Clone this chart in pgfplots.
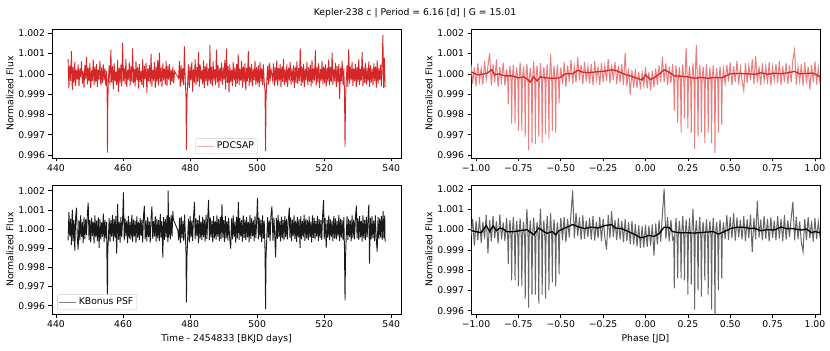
\documentclass[border=0pt]{standalone}
\usepackage{pgfplots}
\pgfplotsset{compat=1.18}
\usepackage{fontspec}
\setmainfont{DejaVu Sans}

\definecolor{tabred}{RGB}{214,39,40}
\definecolor{pdcnoise}{RGB}{234,125,125}
\definecolor{pdcleg}{RGB}{242,170,170}

\pgfplotsset{
  lcbase/.style={
    scale only axis, width=349bp, height=129bp,
    axis line style={line width=0.6bp},
    tick style={line width=0.6bp, black},
    tick align=outside, major tick length=3.5bp,
    xtick pos=bottom, ytick pos=left,
    ytick={0.996,0.997,0.998,0.999,1.000,1.001,1.002},
    yticklabels={0.996,0.997,0.998,0.999,1.000,1.001,1.002},
    ylabel={Normalized Flux},
    ylabel style={yshift=-2bp},
    tick label style={font=\fontsize{9.3}{11}\selectfont},
    label style={font=\fontsize{9.3}{11}\selectfont},
    legend style={font=\fontsize{9.3}{11}\selectfont, draw=black!20, rounded corners=2bp,
      fill=white, fill opacity=0.8, text opacity=1, inner sep=1.5bp},
    legend cell align=left,
  },
  timeax/.style={lcbase, xmin=438.8, xmax=542.9,
    xtick={440,460,480,500,520,540}, xticklabels={440,460,480,500,520,540}},
  phaseax/.style={lcbase, xmin=-1.03, xmax=1.03,
    xtick={-1,-0.75,-0.5,-0.25,0,0.25,0.5,0.75,1},
    xticklabels={−1.00,−0.75,−0.50,−0.25,0.00,0.25,0.50,0.75,1.00}},
}

\begin{document}
\begin{tikzpicture}
\useasboundingbox (0,0) rectangle (830bp,351bp);
\node[font=\fontsize{9.3}{11}\selectfont] at (415bp,338bp) {Kepler-238 c | Period = 6.16 [d] | G = 15.01};

% PDCSAP light curve
\begin{axis}[timeax, at={(52bp,193bp)}, anchor=south west,
  ymin=0.99585, ymax=1.00221,
  legend style={at={(0.5,0.03)}, anchor=south}]
\addplot[tabred, line width=0.9bp, forget plot] coordinates {
(443.60,1.00072) (443.85,0.99928) (444.10,1.00041) (444.35,0.99965) (444.60,1.00112) (444.85,0.99921)
(445.10,1.00034) (445.35,0.99956) (445.60,1.00058) (445.85,0.99941) (446.10,1.00019) (446.35,0.99972)
(446.60,1.00047) (446.85,0.99938) (447.10,1.00026) (447.35,0.99983) (447.60,1.00061) (447.85,0.99952)
(448.10,1.00012) (448.35,0.99931) (448.60,1.00044) (448.85,0.99977) (449.10,1.00083) (449.35,0.99948)
(449.60,1.00029) (449.85,0.99962) (450.10,1.00053) (450.35,0.99929) (450.60,1.00017) (450.85,0.99966)
(451.10,1.00071) (451.35,0.99945) (451.60,1.00035) (451.85,0.99958) (452.10,1.00049) (452.35,0.99936)
(452.60,1.00022) (452.85,0.99971) (453.10,1.00064) (453.35,0.99943) (453.60,1.00031) (453.85,0.99954)
(454.10,1.00046) (454.35,0.99968) (454.60,1.00027) (454.85,0.99939) (455.10,1.00013) (455.25,0.99905)
(455.35,0.99612) (455.45,0.99850) (455.60,0.99962) (455.85,1.00041) (456.10,0.99947) (456.35,1.00117)
(456.60,0.99958) (456.85,1.00038) (457.10,0.99925) (457.35,1.00052) (457.60,0.99963) (457.85,1.00009)
(458.10,0.99944) (458.35,1.00068) (458.60,0.99911) (458.85,1.00032) (459.10,0.99957) (459.35,1.00045)
(459.60,0.99938) (459.85,1.00152) (460.10,0.99965) (460.35,1.00028) (460.60,0.99949) (460.85,1.00073)
(461.10,0.99934) (461.35,1.00019) (461.60,0.99972) (461.85,1.00056) (462.10,0.99942) (462.35,1.00037)
(462.60,0.99961) (462.85,1.00125) (463.10,0.99953) (463.35,1.00024) (463.60,0.99938) (463.85,1.00062)
(464.10,0.99969) (464.35,1.00033) (464.60,0.99927) (464.85,1.00048) (465.10,0.99959) (465.35,1.00015)
(465.60,0.99946) (465.85,1.00071) (466.10,0.99932) (466.35,1.00039) (466.60,0.99975) (466.85,1.00054)
(467.10,0.99906) (467.35,1.00027) (467.60,0.99963) (467.85,1.00044) (468.10,0.99951) (468.35,1.00098)
(468.60,0.99937) (468.85,1.00021) (469.10,0.99966) (469.35,1.00057) (469.60,0.99929) (469.85,1.00036)
(470.10,0.99958) (470.35,1.00069) (470.60,0.99943) (470.85,1.00104) (471.10,0.99961) (471.35,1.00030)
(471.60,0.99935) (471.85,1.00051) (472.10,0.99968) (472.35,1.00025) (472.60,0.99947) (472.85,1.00063)
(473.10,0.99939) (473.35,1.00038) (473.60,0.99972) (473.85,1.00049) (474.10,0.99944) (474.35,1.00021)
(474.60,0.99960) (474.85,1.00035) (475.10,0.99953) (475.35,1.00012)
(476.55,0.99978) (476.80,1.00062) (477.05,0.99934) (477.30,1.00041) (477.55,0.99957) (477.80,1.00028)
(478.05,0.99946) (478.30,1.00135) (478.55,0.99962) (478.75,0.99895) (478.90,0.99625) (479.05,0.99870)
(479.25,0.99952) (479.50,1.00047) (479.75,0.99931) (480.00,1.00036) (480.25,0.99968) (480.50,1.00059)
(480.75,0.99912) (481.00,1.00024) (481.25,0.99957) (481.50,1.00071) (481.75,0.99943) (482.00,1.00033)
(482.25,0.99961) (482.50,1.00108) (482.75,0.99937) (483.00,1.00045) (483.25,0.99972) (483.50,1.00018)
(483.75,0.99948) (484.00,1.00066) (484.25,0.99929) (484.50,1.00039) (484.75,0.99963) (485.00,1.00052)
(485.25,0.99941) (485.50,1.00027) (485.75,0.99966) (485.90,1.00142) (486.10,0.99952) (486.35,1.00034)
(486.60,0.99938) (486.85,1.00061) (487.10,0.99967) (487.35,1.00023) (487.60,0.99944) (487.85,1.00118)
(488.10,0.99957) (488.35,1.00041) (488.60,0.99931) (488.85,1.00029) (489.10,0.99964) (489.35,1.00055)
(489.60,0.99947) (489.85,1.00032) (490.10,0.99971) (490.35,1.00067) (490.60,0.99924) (490.85,1.00124)
(491.10,0.99955) (491.35,1.00038) (491.60,0.99907) (491.85,1.00046) (492.10,0.99962) (492.35,1.00019)
(492.60,0.99940) (492.85,1.00058) (493.10,0.99968) (493.35,1.00031) (493.60,0.99936) (493.85,1.00049)
(494.10,0.99953) (494.35,1.00096) (494.60,0.99945) (494.85,1.00026) (495.10,0.99966) (495.35,1.00063)
(495.60,0.99932) (495.85,1.00037) (496.10,0.99959) (496.35,1.00052) (496.60,0.99918) (496.85,1.00029)
(497.10,0.99964) (497.35,1.00112) (497.60,0.99941) (497.85,1.00035) (498.10,0.99957) (498.35,1.00048)
(498.60,0.99938) (498.85,1.00022) (499.10,0.99969) (499.35,1.00064) (499.60,0.99946) (499.85,1.00033)
(500.10,0.99953) (500.35,1.00042) (500.60,0.99935) (500.85,1.00058) (501.10,0.99962) (501.35,1.00027)
(501.60,0.99944) (501.85,1.00047) (502.10,0.99958) (502.35,0.99915) (502.50,0.99620) (502.65,0.99880)
(502.85,0.99961) (503.10,1.00038) (503.35,0.99947) (503.60,1.00055) (503.85,0.99963) (504.10,1.00024)
(504.60,0.99971) (504.85,1.00051) (505.10,0.99939) (505.35,1.00033) (505.60,0.99958) (505.85,1.00066)
(506.10,0.99942) (506.35,1.00029) (506.60,0.99967) (506.85,1.00048) (507.10,0.99933) (507.35,1.00037)
(507.60,0.99961) (507.85,1.00072) (508.10,0.99944) (508.35,1.00021) (508.60,0.99955) (508.85,1.00046)
(509.10,0.99936) (509.35,1.00031) (509.60,0.99968) (509.85,1.00059) (510.10,0.99947) (510.35,1.00025)
(510.60,0.99962) (510.85,1.00043) (511.10,0.99929) (511.35,1.00034) (511.60,0.99957) (511.85,1.00061)
(512.10,0.99949) (512.35,1.00028) (512.60,0.99965) (512.85,1.00126) (513.10,0.99941) (513.35,1.00036)
(513.60,0.99956) (513.85,1.00049) (514.10,0.99934) (514.35,1.00023) (514.60,0.99968) (514.85,1.00057)
(515.10,0.99945) (515.35,1.00032) (515.60,0.99961) (515.85,1.00044) (516.10,0.99938) (516.35,1.00068)
(516.60,0.99953) (516.85,1.00027) (517.10,0.99966) (517.35,1.00115) (517.60,0.99942) (517.85,1.00035)
(518.10,0.99958) (518.35,1.00052) (518.60,0.99931) (518.85,1.00024) (519.10,0.99967) (519.35,1.00063)
(519.60,0.99948) (519.85,1.00037) (520.10,0.99955) (520.35,1.00046) (520.60,0.99937) (520.85,1.00029)
(521.10,0.99962) (521.35,1.00071) (521.60,0.99943) (521.85,1.00034) (522.10,0.99959) (522.35,1.00105)
(522.60,0.99946) (522.85,1.00022) (523.10,0.99964) (523.35,1.00053) (523.60,0.99935) (523.85,1.00038)
(524.10,0.99957) (524.35,1.00047) (524.60,0.99876) (524.85,1.00031) (525.10,0.99963) (525.35,1.00064)
(525.60,0.99944) (525.85,1.00026) (526.05,0.99905) (526.20,0.99640) (526.35,0.99860) (526.55,0.99958)
(526.80,1.00043) (527.05,0.99936) (527.30,1.00121) (527.55,0.99952) (527.80,1.00035) (528.05,0.99968)
(528.30,1.00058) (528.55,0.99941) (528.80,1.00027) (529.05,0.99963) (529.30,1.00049) (529.55,0.99933)
(529.80,1.00036) (530.05,0.99958) (530.30,1.00073) (530.55,0.99945) (530.80,1.00024) (531.05,0.99966)
(531.30,1.00108) (531.55,0.99939) (531.80,1.00032) (532.05,0.99956) (532.30,1.00054) (532.55,0.99947)
(532.80,1.00029) (533.05,0.99962) (533.30,1.00061) (533.55,0.99936) (533.80,1.00041) (534.05,0.99958)
(534.30,1.00025) (534.55,0.99943) (534.80,1.00052) (535.05,0.99965) (535.30,1.00037) (535.55,0.99932)
(535.80,1.00066) (536.05,0.99951) (536.30,1.00028) (536.55,0.99969) (536.80,1.00045) (537.05,0.99938)
(537.30,1.00058) (537.50,1.00192) (537.70,0.99931) (537.95,1.00079) (538.15,0.99935)
};
\addlegendimage{pdcleg, line width=0.9bp}
\addlegendentry{PDCSAP}
\end{axis}

% PDCSAP folded
\begin{axis}[phaseax, at={(471bp,193bp)}, anchor=south west,
  ymin=0.99585, ymax=1.00221]
\addplot[pdcnoise, line width=1.0bp] coordinates {
(-1.03,1.00045) (-1.02,0.99951) (-1.01,1.00032) (-1.00,0.99938) (-0.99,1.00051) (-0.98,0.99964) (-0.97,1.00028) (-0.96,0.99947) (-0.95,1.00063) (-0.94,0.99972)
(-0.93,1.00039) (-0.92,1.00102) (-0.91,0.99943) (-0.90,1.00047) (-0.89,0.99958) (-0.88,1.00071) (-0.87,0.99936) (-0.86,1.00034) (-0.85,0.99961) (-0.84,1.00055)
(-0.83,0.99942)
(-0.82,1.00026) (-0.813,0.99962) (-0.81,0.99850) (-0.807,0.99971) (-0.80,1.00038) (-0.793,0.99957) (-0.79,0.99755) (-0.787,0.99968)
(-0.78,1.00044) (-0.773,0.99949) (-0.77,0.99755) (-0.767,0.99975) (-0.76,1.00031) (-0.753,0.99958) (-0.75,0.99720) (-0.747,0.99964)
(-0.74,1.00057) (-0.733,0.99946) (-0.73,0.99720) (-0.727,0.99972) (-0.72,1.00036) (-0.713,0.99955) (-0.71,0.99690) (-0.707,0.99961)
(-0.70,1.00049) (-0.693,0.99948) (-0.69,0.99625) (-0.687,0.99967) (-0.68,1.00028) (-0.673,0.99953) (-0.67,0.99660) (-0.667,0.99974)
(-0.66,1.00061) (-0.653,0.99942) (-0.65,0.99655) (-0.647,0.99966) (-0.64,1.00042) (-0.633,0.99957) (-0.63,0.99690) (-0.627,0.99949)
(-0.62,1.00053) (-0.613,0.99963) (-0.61,0.99660) (-0.607,0.99958) (-0.60,1.00034) (-0.593,0.99951) (-0.59,0.99700) (-0.587,0.99969)
(-0.58,1.00047) (-0.573,0.99944) (-0.57,0.99680) (-0.567,0.99962) (-0.56,1.00096) (-0.553,0.99956) (-0.55,0.99720) (-0.547,0.99971)
(-0.54,1.00038) (-0.533,0.99948) (-0.53,0.99710) (-0.527,0.99965) (-0.52,1.00045) (-0.513,0.99959) (-0.51,0.99855) (-0.507,0.99952)
(-0.50,1.00031) (-0.49,0.99948) (-0.48,1.00057) (-0.47,0.99936) (-0.46,1.00042) (-0.45,0.99962) (-0.44,1.00068)
(-0.43,0.99951) (-0.42,1.00035) (-0.41,0.99957) (-0.40,1.00081) (-0.39,0.99968) (-0.38,1.00044) (-0.37,0.99949) (-0.36,1.00059) (-0.35,0.99963) (-0.34,1.00037)
(-0.33,0.99952) (-0.32,1.00049) (-0.31,0.99944) (-0.30,1.00062) (-0.29,0.99971) (-0.28,1.00033) (-0.27,0.99946) (-0.26,1.00054) (-0.25,0.99958) (-0.24,1.00041)
(-0.23,0.99965) (-0.22,1.00072) (-0.21,0.99953) (-0.20,1.00046) (-0.19,0.99968) (-0.18,1.00058) (-0.17,0.99951) (-0.16,1.00039) (-0.15,0.99957) (-0.14,1.00048)
(-0.13,0.99944) (-0.12,1.00103) (-0.11,0.99938) (-0.10,1.00027) (-0.09,0.99898) (-0.08,1.00018) (-0.07,0.99932) (-0.06,1.00024) (-0.05,0.99929) (-0.04,1.00011)
(-0.03,0.99924) (-0.02,1.00006) (-0.01,0.99941) (0.00,1.00034) (0.01,0.99928) (0.02,1.00009) (0.03,0.99919) (0.04,1.00015) (0.05,0.99935) (0.06,1.00027)
(0.07,0.99946) (0.08,1.00041) (0.09,0.99962) (0.10,1.00083) (0.11,0.99958) (0.12,1.00052) (0.13,0.99943) (0.14,1.00037) (0.15,0.99956)
(0.16,1.00048) (0.167,0.99958) (0.17,0.99820) (0.173,0.99966) (0.18,1.00041) (0.187,0.99951) (0.19,0.99760) (0.193,0.99968)
(0.20,1.00033) (0.207,0.99955) (0.21,0.99710) (0.213,0.99972) (0.22,1.00046) (0.227,0.99947) (0.23,0.99780) (0.233,0.99963)
(0.24,1.00128) (0.247,0.99958) (0.25,0.99730) (0.253,0.99969) (0.26,1.00039) (0.267,0.99944) (0.27,0.99710) (0.273,0.99961)
(0.28,1.00052) (0.287,0.99953) (0.29,0.99630) (0.293,0.99974) (0.30,1.00141) (0.307,0.99949) (0.31,0.99690) (0.313,0.99965)
(0.32,1.00044) (0.327,0.99957) (0.33,0.99710) (0.333,0.99952) (0.34,1.00036) (0.347,0.99946) (0.35,0.99660) (0.353,0.99967)
(0.36,1.00049) (0.367,0.99955) (0.37,0.99710) (0.373,0.99962) (0.38,1.00032) (0.387,0.99948) (0.39,0.99660) (0.393,0.99971)
(0.40,1.00041) (0.407,0.99956) (0.41,0.99610) (0.413,0.99964) (0.42,1.00028) (0.427,0.99951) (0.43,0.99710) (0.433,0.99968)
(0.44,1.00037) (0.447,0.99953) (0.45,0.99750) (0.453,0.99962) (0.46,1.00024)
(0.47,0.99951) (0.48,1.00045) (0.49,0.99962) (0.50,1.00056) (0.51,0.99943) (0.52,1.00038) (0.53,0.99959) (0.54,1.00064) (0.55,0.99947) (0.56,1.00031)
(0.57,0.99966) (0.58,0.99918) (0.59,1.00053) (0.60,0.99954) (0.61,1.00042) (0.62,0.99968) (0.63,1.00071) (0.64,0.99948) (0.65,1.00088) (0.66,0.99957)
(0.67,1.00036) (0.68,0.99944) (0.69,1.00052) (0.70,0.99963) (0.71,1.00039) (0.72,0.99951) (0.73,1.00058) (0.74,0.99942) (0.75,1.00033) (0.76,0.99967)
(0.77,1.00047) (0.78,0.99956) (0.79,1.00062) (0.80,0.99945) (0.81,1.00038) (0.82,0.99961) (0.83,1.00054) (0.84,0.99949) (0.85,1.00041) (0.86,0.99958)
(0.87,1.00069) (0.88,1.00118) (0.89,0.99946) (0.90,1.00034) (0.91,0.99963) (0.92,1.00049) (0.93,0.99941) (0.94,1.00057) (0.95,0.99952) (0.96,1.00036)
(0.97,0.99922) (0.98,1.00044) (0.99,0.99958) (1.00,1.00061) (1.01,0.99947) (1.02,1.00032) (1.03,0.99953)
};
\addplot[tabred, line width=1.3bp] coordinates {
(-1.03,1.00010) (-0.99,0.99995) (-0.95,1.00000) (-0.93,1.00005) (-0.91,1.00020) (-0.89,0.99995) (-0.87,1.00000)
(-0.83,0.99990) (-0.79,0.99990) (-0.75,0.99980) (-0.72,0.99985) (-0.70,0.99975) (-0.68,0.99960) (-0.66,0.99985)
(-0.64,0.99965) (-0.62,0.99985) (-0.59,0.99980) (-0.55,0.99978) (-0.51,0.99980) (-0.47,1.00000) (-0.43,1.00000)
(-0.40,1.00018) (-0.37,1.00008) (-0.33,1.00005) (-0.29,1.00010) (-0.25,1.00012) (-0.20,1.00020) (-0.17,1.00015)
(-0.13,1.00000) (-0.09,0.99990) (-0.05,0.99978) (-0.02,0.99970) (0.00,0.99995) (0.03,0.99972) (0.06,0.99985)
(0.09,1.00005) (0.11,1.00020) (0.14,1.00008) (0.17,0.99990) (0.21,0.99988) (0.25,0.99985) (0.29,0.99978)
(0.33,0.99982) (0.37,0.99978) (0.41,0.99982) (0.45,0.99980) (0.50,1.00000) (0.55,1.00002) (0.60,1.00000)
(0.65,0.99998) (0.68,1.00005) (0.72,0.99998) (0.76,1.00003) (0.80,1.00000) (0.84,1.00005) (0.88,1.00012)
(0.91,1.00000) (0.95,1.00002) (0.99,1.00003) (1.01,0.99995) (1.03,0.99985)
};
\end{axis}

% KBonus light curve
\begin{axis}[timeax, at={(52bp,37bp)}, anchor=south west,
  ymin=0.99557, ymax=1.0023,
  xlabel={Time - 2454833 [BKJD days]},
  legend style={at={(0.015,0.03)}, anchor=south west}]
\addplot[black!90, line width=0.9bp, forget plot] coordinates {
(443.60,0.99941) (443.85,1.00089) (444.10,0.99962) (444.35,1.00054) (444.60,0.99917) (444.85,1.00102)
(445.10,0.99936) (445.35,1.00047) (445.60,0.99888) (445.85,1.00061) (446.10,1.00112) (446.35,0.99953)
(446.60,0.99893) (446.85,1.00048) (447.10,0.99941) (447.35,1.00072) (447.60,0.99959) (447.85,1.00036)
(448.10,0.99927) (448.35,1.00063) (448.60,0.99948) (448.85,1.00051) (449.10,0.99968) (449.35,1.00077)
(449.60,1.00138) (449.85,0.99942) (450.10,1.00046) (450.35,0.99931) (450.60,1.00058) (450.85,0.99964)
(451.10,1.00039) (451.35,0.99925) (451.60,1.00071) (451.85,0.99957) (452.10,1.00044) (452.35,0.99938)
(452.60,1.00062) (452.85,0.99902) (453.10,1.00053) (453.35,0.99946) (453.60,1.00035) (453.85,0.99959)
(454.10,1.00081) (454.35,0.99933) (454.60,1.00049) (454.85,0.99951) (455.10,1.00038) (455.25,0.99720)
(455.35,0.99660) (455.45,0.99890) (455.60,0.99944) (455.85,1.00057) (456.10,0.99932) (456.35,1.00046)
(456.60,0.99961) (456.85,1.00073) (457.10,0.99939) (457.35,1.00052) (457.60,0.99954) (457.85,1.00068)
(458.10,0.99872) (458.35,1.00131) (458.60,0.99945) (458.85,1.00039) (459.10,0.99929) (459.35,1.00062)
(459.60,0.99958) (459.85,1.00047) (460.10,1.00191) (460.35,0.99941) (460.60,1.00055) (460.85,0.99963)
(461.10,1.00044) (461.35,0.99927) (461.60,1.00069) (461.85,0.99952) (462.10,1.00038) (462.35,0.99946)
(462.60,1.00074) (462.85,0.99934) (463.10,1.00051) (463.35,0.99961) (463.60,1.00043) (463.85,0.99928)
(464.10,1.00066) (464.35,0.99955) (464.60,1.00037) (464.85,0.99942) (465.10,1.00059) (465.35,0.99963)
(465.60,1.00048) (465.85,0.99931) (466.10,1.00072) (466.35,1.00121) (466.60,0.99947) (466.85,1.00045)
(467.10,0.99936) (467.35,1.00063) (467.60,0.99958) (467.85,1.00039) (468.10,0.99929) (468.35,1.00057)
(468.60,1.00118) (468.85,0.99949) (469.10,1.00042) (469.35,0.99962) (469.60,1.00068) (469.85,0.99935)
(470.10,1.00053) (470.35,0.99951) (470.60,1.00046) (470.85,0.99938) (471.10,1.00079) (471.35,0.99957)
(471.60,1.00041) (471.85,0.99852) (472.10,1.00064) (472.35,0.99944) (472.60,1.00052) (472.85,0.99959)
(473.10,1.00071) (473.35,0.99932) (473.45,1.00201) (473.60,0.99956) (473.85,1.00062) (474.10,0.99947)
(474.35,1.00074) (474.60,0.99961) (474.85,1.00093) (475.00,1.00051)
(476.35,0.99992) (476.60,0.99941) (476.85,1.00058) (477.10,0.99928) (477.35,1.00066) (477.60,0.99953)
(477.85,1.00042) (478.10,0.99937) (478.35,1.00075) (478.60,0.99958) (478.75,0.99890) (478.90,0.99618)
(479.05,0.99850) (479.25,0.99946) (479.50,1.00053) (479.75,0.99931) (480.00,1.00067) (480.25,0.99955)
(480.50,1.00044) (480.75,0.99939) (481.00,1.00061) (481.30,1.00142) (481.50,0.99948) (481.75,1.00057)
(482.00,0.99962) (482.25,1.00046) (482.50,0.99927) (482.75,1.00071) (483.00,0.99951) (483.25,1.00039)
(483.50,0.99943) (483.75,1.00064) (484.00,0.99958) (484.25,1.00048) (484.50,0.99936) (484.75,1.00073)
(485.00,0.99949) (485.25,1.00056) (485.50,1.00152) (485.75,0.99942) (486.00,1.00061) (486.25,0.99957)
(486.50,1.00044) (486.75,0.99931) (487.00,1.00068) (487.25,0.99953) (487.50,1.00041) (487.75,0.99945)
(488.00,1.00072) (488.25,0.99961) (488.50,1.00052) (488.75,0.99938) (489.00,1.00063) (489.25,0.99949)
(489.50,1.00131) (489.75,0.99956) (490.00,1.00047) (490.25,0.99934) (490.50,1.00069) (490.75,0.99952)
(491.00,1.00043) (491.25,0.99941) (491.50,1.00058) (491.75,0.99963) (492.10,0.99898) (492.35,1.00056)
(492.60,0.99947) (492.85,1.00071) (493.10,0.99958) (493.35,1.00039) (493.60,0.99929) (493.85,1.00064)
(494.10,0.99952) (494.40,1.00141) (494.60,0.99944) (494.85,1.00057) (495.10,0.99961) (495.35,1.00046)
(495.60,0.99935) (495.85,1.00072) (496.10,0.99954) (496.35,1.00049) (496.60,0.99942) (496.85,1.00063)
(497.10,0.99957) (497.35,1.00038) (497.60,0.99931) (497.85,1.00074) (498.10,0.99949) (498.35,1.00056)
(498.60,0.99962) (498.85,1.00045) (499.10,0.99937) (499.35,1.00067) (499.60,0.99953) (499.85,1.00042)
(500.10,1.00162) (500.35,0.99946) (500.60,1.00059) (500.85,0.99958) (501.10,1.00048) (501.35,0.99933)
(501.60,1.00071) (501.85,0.99951) (502.10,1.00044) (502.35,0.99880) (502.50,0.99582) (502.65,0.99860)
(502.85,0.99947) (503.10,1.00062) (503.35,0.99956) (503.60,1.00045) (503.85,0.99938) (504.10,1.00068)
(504.40,1.00118) (504.70,0.99940) (505.00,1.00060) (505.25,0.99960) (505.50,0.99852) (505.75,1.00058)
(506.00,0.99949) (506.25,1.00073) (506.50,0.99957) (506.75,1.00042) (507.00,0.99936) (507.25,1.00065)
(507.50,0.99952) (507.75,1.00047) (508.00,0.99941) (508.25,1.00069) (508.50,0.99958) (508.75,1.00053)
(509.00,0.99946) (509.25,1.00038) (509.60,1.00112) (509.75,0.99955) (510.00,1.00061) (510.25,0.99937)
(510.50,1.00049) (510.75,0.99962) (511.00,1.00072) (511.25,0.99948) (511.50,1.00044) (511.75,0.99933)
(512.00,1.00063) (512.25,0.99956) (512.50,1.00051) (512.80,0.99902) (513.00,1.00068) (513.25,0.99947)
(513.50,1.00042) (513.75,0.99959) (514.00,1.00074) (514.25,0.99938) (514.50,1.00055) (514.75,0.99951)
(515.00,1.00047) (515.25,0.99942) (515.50,1.00066) (515.75,0.99957) (516.00,1.00039) (516.25,0.99931)
(516.50,1.00071) (516.75,0.99954) (517.00,1.00058) (517.25,0.99946) (517.50,1.00043) (517.75,0.99961)
(518.00,1.00069) (518.25,0.99939) (518.50,1.00052) (518.75,0.99953) (519.00,1.00046) (519.25,0.99944)
(519.50,1.00064) (519.80,1.00151) (520.00,0.99949) (520.25,1.00057) (520.60,0.99901) (520.85,1.00048)
(521.10,0.99956) (521.35,1.00072) (521.60,0.99943) (521.85,1.00051) (522.10,0.99958) (522.35,1.00043)
(522.60,0.99937) (522.85,1.00068) (523.10,0.99952) (523.35,1.00056) (523.60,0.99947) (523.85,1.00041)
(524.10,0.99961) (524.35,1.00073) (524.60,0.99939) (524.85,1.00054) (525.10,0.99955) (525.35,1.00046)
(525.60,0.99941) (525.85,1.00062) (526.05,0.99880) (526.20,0.99628) (526.35,0.99850) (526.55,0.99952)
(526.80,1.00067) (527.05,0.99944) (527.30,1.00053) (527.55,0.99958) (527.80,1.00045) (528.05,0.99936)
(528.30,1.00071) (528.55,0.99953) (528.80,1.00049) (529.05,0.99946) (529.30,1.00062) (529.60,1.00122)
(529.80,0.99951) (530.05,1.00056) (530.30,0.99942) (530.55,1.00068) (530.80,0.99957) (531.05,1.00044)
(531.30,0.99935) (531.55,1.00072) (531.80,0.99952) (532.05,1.00047) (532.30,0.99943) (532.55,1.00063)
(532.80,0.99958) (533.05,1.00051) (533.30,1.00128) (533.50,0.99821) (533.75,1.00059) (534.00,0.99946)
(534.25,1.00067) (534.50,0.99953) (534.75,1.00044) (535.00,0.99938) (535.25,1.00071) (535.50,0.99955)
(535.80,0.99882) (536.05,1.00062) (536.30,0.99948) (536.55,1.00056) (536.80,0.99957) (537.05,1.00068)
(537.30,0.99943) (537.55,1.00093) (537.80,0.99952) (538.05,1.00071) (538.15,0.99936)
};
\addlegendimage{black!50, line width=0.9bp}
\addlegendentry{KBonus PSF}
\end{axis}

% KBonus folded
\begin{axis}[phaseax, at={(471bp,37bp)}, anchor=south west,
  ymin=0.99584, ymax=1.0022, xlabel={Phase [JD]}]
\addplot[black!60, line width=1.0bp] coordinates {
(-1.03,0.99968) (-1.02,1.00052) (-1.01,0.99921) (-1.00,1.00043) (-0.99,0.99947) (-0.98,1.00061) (-0.97,0.99935) (-0.96,1.00038) (-0.95,0.99956) (-0.94,1.00072)
(-0.93,0.99883) (-0.92,1.00047) (-0.91,0.99942) (-0.90,1.00066) (-0.89,0.99958) (-0.88,1.00041) (-0.87,0.99931) (-0.86,1.00075) (-0.85,0.99952) (-0.84,1.00036)
(-0.83,0.99944)
(-0.82,1.00058) (-0.813,0.99952) (-0.81,0.99830) (-0.807,0.99966) (-0.80,1.00047) (-0.793,0.99945) (-0.79,0.99750) (-0.787,0.99971)
(-0.78,1.00063) (-0.773,0.99954) (-0.77,0.99750) (-0.767,0.99962) (-0.76,1.00042) (-0.753,0.99948) (-0.75,0.99720) (-0.747,0.99969)
(-0.74,1.00055) (-0.733,0.99957) (-0.73,0.99720) (-0.727,0.99961) (-0.72,1.00038) (-0.713,0.99946) (-0.71,0.99660) (-0.707,0.99973)
(-0.70,1.00102) (-0.693,0.99951) (-0.69,0.99615) (-0.687,0.99964) (-0.68,1.00046) (-0.673,0.99943) (-0.67,0.99680) (-0.667,0.99968)
(-0.66,1.00059) (-0.653,0.99955) (-0.65,0.99680) (-0.647,0.99961) (-0.64,1.00037) (-0.633,0.99949) (-0.63,0.99635) (-0.627,0.99972)
(-0.62,1.00104) (-0.613,0.99958) (-0.61,0.99680) (-0.607,0.99966) (-0.60,1.00045) (-0.593,0.99944) (-0.59,0.99660) (-0.587,0.99969)
(-0.58,1.00068) (-0.573,0.99953) (-0.57,0.99700) (-0.567,0.99962) (-0.56,1.00081) (-0.553,0.99947) (-0.55,0.99740) (-0.547,0.99971)
(-0.54,1.00049) (-0.533,0.99956) (-0.53,0.99720) (-0.527,0.99963) (-0.52,1.00036) (-0.513,0.99952) (-0.51,0.99780) (-0.507,0.99968)
(-0.50,1.00058) (-0.49,0.99947) (-0.48,1.00063) (-0.47,0.99938) (-0.46,1.00051) (-0.45,0.99962) (-0.44,1.00074)
(-0.43,1.00192) (-0.42,0.99957) (-0.41,1.00083) (-0.40,0.99969) (-0.39,1.00062) (-0.38,0.99948) (-0.37,1.00071) (-0.36,0.99955) (-0.35,1.00044) (-0.34,0.99963)
(-0.33,1.00058) (-0.32,0.99951) (-0.31,1.00067) (-0.30,0.99946) (-0.29,1.00039) (-0.28,0.99958) (-0.27,1.00062) (-0.26,0.99943) (-0.25,1.00054) (-0.24,0.99961)
(-0.23,0.99902) (-0.22,1.00073) (-0.21,0.99958) (-0.20,1.00091) (-0.19,0.99964) (-0.18,1.00047) (-0.17,0.99949) (-0.16,1.00056) (-0.15,0.99952) (-0.14,1.00043)
(-0.13,0.99938) (-0.12,1.00051) (-0.11,0.99943) (-0.10,1.00037) (-0.09,0.99929) (-0.08,1.00042) (-0.07,0.99926) (-0.06,1.00028) (-0.05,0.99918) (-0.04,1.00021)
(-0.03,0.99909) (-0.02,1.00017) (-0.01,0.99912) (0.00,1.00024) (0.01,0.99915) (0.02,1.00019) (0.03,0.99921) (0.04,1.00026) (0.05,0.99872) (0.06,1.00031)
(0.07,0.99928) (0.08,1.00045) (0.09,0.99941) (0.10,1.00078) (0.11,1.00202) (0.12,0.99953) (0.13,1.00061) (0.14,0.99942) (0.15,1.00048)
(0.16,0.99951) (0.167,0.99962) (0.17,0.99710) (0.173,0.99969) (0.18,1.00056) (0.187,0.99948) (0.19,0.99760) (0.193,0.99965)
(0.20,1.00043) (0.207,0.99954) (0.21,0.99760) (0.213,0.99971) (0.22,1.00067) (0.227,0.99946) (0.23,0.99750) (0.233,0.99962)
(0.24,1.00049) (0.247,0.99957) (0.25,0.99680) (0.253,0.99968) (0.26,1.00058) (0.267,0.99943) (0.27,0.99730) (0.273,0.99966)
(0.28,1.00103) (0.287,0.99951) (0.29,0.99605) (0.293,0.99972) (0.30,1.00045) (0.307,0.99955) (0.31,0.99700) (0.313,0.99964)
(0.32,1.00062) (0.327,0.99948) (0.33,0.99670) (0.333,0.99961) (0.34,1.00039) (0.347,0.99953) (0.35,0.99750) (0.353,0.99969)
(0.36,1.00051) (0.367,0.99944) (0.37,0.99680) (0.373,0.99967) (0.38,1.00043) (0.387,0.99956) (0.39,0.99605) (0.393,0.99963)
(0.40,1.00058) (0.407,0.99949) (0.41,0.99560) (0.413,0.99972) (0.42,1.00037) (0.427,0.99952) (0.43,0.99700) (0.433,0.99966)
(0.44,1.00049) (0.447,0.99958) (0.45,0.99760) (0.453,0.99961) (0.46,1.00036)
(0.47,0.99954) (0.48,1.00072) (0.49,0.99948) (0.50,1.00063) (0.51,0.99957) (0.52,1.00081) (0.53,0.99946) (0.54,1.00059) (0.55,0.99962) (0.56,1.00048)
(0.57,0.99951) (0.58,1.00066) (0.59,0.99943) (0.60,1.00052) (0.61,0.99958) (0.62,1.00074) (0.63,0.99889) (0.64,1.00057) (0.65,0.99953) (0.66,1.00142)
(0.67,0.99961) (0.68,1.00049) (0.69,0.99947) (0.70,1.00068) (0.71,0.99955) (0.72,1.00053) (0.73,0.99942) (0.74,1.00061) (0.75,0.99958) (0.76,1.00044)
(0.77,0.99949) (0.78,1.00067) (0.79,0.99956) (0.80,1.00052) (0.81,0.99943) (0.82,1.00071) (0.83,0.99951) (0.84,1.00046) (0.85,0.99963) (0.86,1.00058)
(0.87,1.00138) (0.88,0.99947) (0.89,1.00063) (0.90,0.99954) (0.91,1.00041) (0.92,0.99936) (0.93,0.99892) (0.94,1.00052) (0.95,0.99947) (0.96,1.00061)
(0.97,0.99958) (0.98,1.00043) (0.99,0.99941) (1.00,1.00056) (1.01,0.99953) (1.02,1.00038) (1.03,0.99962)
};
\addplot[black, line width=1.3bp] coordinates {
(-1.03,0.99995) (-1.00,0.99990) (-0.97,0.99985) (-0.94,1.00020) (-0.92,0.99990) (-0.90,1.00018) (-0.88,0.99995)
(-0.86,1.00008) (-0.84,1.00003) (-0.82,0.99990) (-0.78,0.99990) (-0.74,0.99995) (-0.70,1.00000) (-0.66,0.99975)
(-0.63,1.00008) (-0.60,0.99990) (-0.58,0.99982) (-0.55,0.99990) (-0.53,0.99975) (-0.51,0.99995) (-0.47,1.00010)
(-0.43,1.00025) (-0.40,1.00015) (-0.36,1.00005) (-0.32,1.00012) (-0.28,1.00008) (-0.24,1.00020) (-0.20,1.00025)
(-0.18,1.00008) (-0.14,1.00005) (-0.10,0.99990) (-0.06,0.99975) (-0.03,0.99960) (0.00,0.99965) (0.02,0.99972)
(0.05,0.99967) (0.08,0.99980) (0.11,1.00012) (0.14,1.00010) (0.16,0.99990) (0.20,0.99985) (0.24,0.99985)
(0.28,0.99983) (0.32,0.99985) (0.36,0.99988) (0.40,0.99990) (0.43,0.99978) (0.46,0.99988) (0.50,1.00005)
(0.54,1.00012) (0.58,1.00012) (0.62,1.00005) (0.64,1.00008) (0.68,0.99995) (0.72,1.00000) (0.76,0.99998)
(0.80,1.00013) (0.83,1.00005) (0.87,1.00005) (0.92,0.99998) (0.95,1.00003) (0.98,0.99985) (1.00,0.99990) (1.03,0.99985)
};
\end{axis}
\end{tikzpicture}
\end{document}
